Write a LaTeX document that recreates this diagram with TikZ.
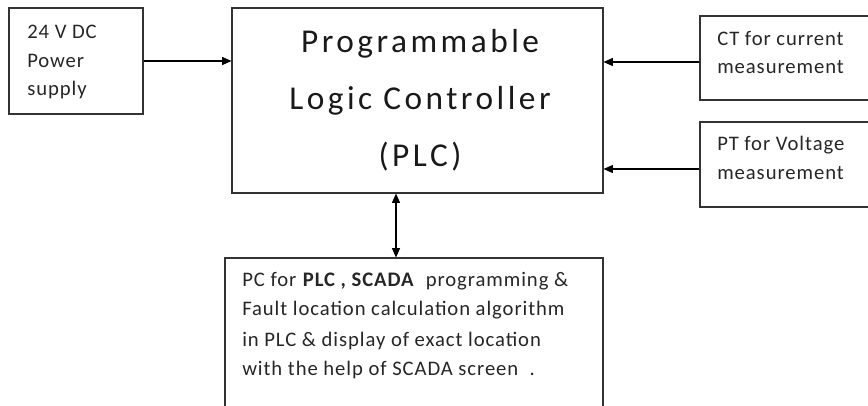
\documentclass[tikz,border=0pt]{standalone}
\usepackage{fontspec}
\setmainfont{Carlito}
\usetikzlibrary{arrows.meta,fit,calc}
\begin{document}
\begin{tikzpicture}[x=0.75pt,y=-0.75pt,
  box/.style={draw=black!80, line width=0.8pt, rectangle, inner sep=0pt},
  small/.style={font=\fontsize{15.5}{21.5}\selectfont\addfontfeatures{LetterSpace=4.5}, text=black!85, inner sep=0pt, anchor=base west},
  big/.style={font=\fontsize{25}{42.5}\selectfont\addfontfeatures{LetterSpace=10.5}, text=black!90, inner sep=0pt, anchor=base},
  conn/.style={line width=0.8pt, -{Triangle[length=7pt,width=6pt]}},
  biconn/.style={line width=0.8pt, {Triangle[length=7pt,width=6pt]}-{Triangle[length=7pt,width=6pt]}}]
\useasboundingbox (0,0) rectangle (868,405);
\clip (0,0) rectangle (868,405);
% boxes
\node[box, fit={(9,8) (143,114)}] (power) {};
\node[box, fit={(232,8) (603,193)}] (plc) {};
\node[box, fit={(700,16) (890,100)}] (ct) {};
\node[box, fit={(700,122) (890,207)}] (pt) {};
\node[box, fit={(225,258) (603,430)}] (pc) {};
% texts
\node[small] (p1) at (27,38) {24 V DC};
\node[small] (p2) at (27,67) {Power};
\node[small] (p3) at (27,95) {supply};
\node[big] (l1) at (420,52) {Programmable};
\node[big] (l2) at (420,109) {Logic Controller};
\node[big] (l3) at (420,166) {(PLC)};
\node[small] (c1) at (717,45) {CT for current};
\node[small] (c2) at (717,73) {measurement};
\node[small] (t1) at (717,150) {PT for Voltage};
\node[small] (t2) at (717,179) {measurement};
\node[small] (q1) at (242,286) {PC for \textbf{PLC , SCADA}\ \ programming \&};
\node[small] (q2) at (242,315) {Fault location calculation algorithm};
\node[small] (q3) at (242,346) {in PLC \& display of exact location};
\node[small] (q4) at (242,375) {with the help of SCADA screen\ \ .};
% connectors
\draw[conn] (power.east) -- (power.east -| plc.west);
\coordinate (ctw) at ($(ct.west)+(0,4)$);
\draw[conn] (ctw) -- (ctw -| plc.east);
\coordinate (ptw) at ($(pt.west)+(0,4.5)$);
\draw[conn] (ptw) -- (ptw -| plc.east);
\coordinate (vx) at (396,0);
\draw[biconn] (plc.south -| vx) -- (pc.north -| vx);
\end{tikzpicture}
\end{document}
